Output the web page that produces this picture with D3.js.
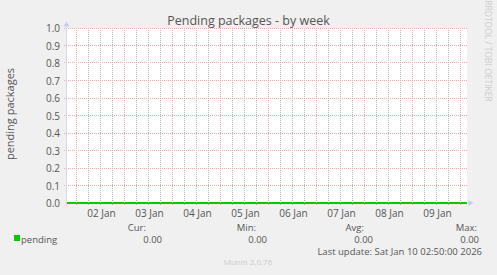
<!DOCTYPE html>
<html>
<head>
<meta charset="utf-8">
<script src="https://cdn.jsdelivr.net/npm/d3@7"></script>
<style>
  body { margin: 0; background: #f0f0f0; }
  svg { display: block; font-family: "Open Sans", sans-serif; }
</style>
</head>
<body>
<div id="app"></div>
<script>
// data
const pendingTimes = ["2026-01-01T19:00Z", "2026-01-03T00:00Z", "2026-01-05T00:00Z",
  "2026-01-07T00:00Z", "2026-01-09T00:00Z", "2026-01-10T03:00Z"]
const pendingValues = [0, 0, 0, 0, 0, 0]
const dayLabels = ["02 Jan", "03 Jan", "04 Jan", "05 Jan", "06 Jan", "07 Jan", "08 Jan", "09 Jan"]
const yTicks = [0, 0.1, 0.2, 0.3, 0.4, 0.5, 0.6, 0.7, 0.8, 0.9, 1.0]
const legendHeads = ["Cur:", "Min:", "Avg:", "Max:"]
const legendValues = ["0.00", "0.00", "0.00", "0.00"]

const width = 497
const height = 275
const plotLeft = 66.5, plotRight = 466.5, plotTop = 28.5, plotBottom = 203.5

const svg = d3.select('#app').append('svg')
  .attr('width', width)
  .attr('height', height)

const scaleX = d3.scaleUtc()
  .domain([new Date("2026-01-01T19:00Z"), new Date("2026-01-10T03:00Z")])
  .range([plotLeft, plotRight])

const scaleY = d3.scaleLinear()
  .domain([0, 1])
  .range([plotBottom, plotTop])

// plot background
svg.append('rect')
  .attr('x', 67).attr('y', 28)
  .attr('width', 400).attr('height', 176)
  .attr('fill', '#fff')

// data line
const line = d3.line()
  .x((d, i) => Math.round(scaleX(new Date(pendingTimes[i]))))
  .y(d => Math.floor(scaleY(d)))

svg.append('path')
  .datum(pendingValues)
  .attr('d', line)
  .attr('fill', 'none')
  .attr('stroke', '#00cc00')
  .attr('stroke-width', 2)

// grid (dots start on whole pixels so they stay crisp)
const minorTicks = scaleX.ticks(d3.utcHour.every(6))
const majorTicks = scaleX.ticks(d3.utcDay.every(1))

svg.append('g').selectAll('line')
  .data(minorTicks.filter(t => t.getUTCHours() != 0))
  .enter().append('line')
  .attr('x1', d => scaleX(d)).attr('x2', d => scaleX(d))
  .attr('y1', 28).attr('y2', 205)
  .attr('stroke', '#bdbdbd')
  .attr('stroke-dasharray', '1,1')

svg.append('g').selectAll('line')
  .data(yTicks.slice(1))
  .enter().append('line')
  .attr('x1', 64).attr('x2', 468)
  .attr('y1', d => Math.round(scaleY(d)) - 0.5).attr('y2', d => Math.round(scaleY(d)) - 0.5)
  .attr('stroke', '#f2a8a8')
  .attr('stroke-dasharray', '1,1')

svg.append('g').selectAll('line')
  .data(majorTicks)
  .enter().append('line')
  .attr('x1', d => scaleX(d)).attr('x2', d => scaleX(d))
  .attr('y1', 28).attr('y2', 206)
  .attr('stroke', '#f2a8a8')
  .attr('stroke-dasharray', '1,1')

// axes with arrows
svg.append('line')
  .attr('x1', plotLeft).attr('x2', plotLeft)
  .attr('y1', 24).attr('y2', 206)
  .attr('stroke', '#d4d7f0')
svg.append('path')
  .attr('d', `M${plotLeft - 3},${plotTop - 2}L${plotLeft + 3},${plotTop - 2}L${plotLeft},${plotTop - 7}Z`)
  .attr('fill', '#c8ccf4')
svg.append('path')
  .attr('d', `M${plotRight + 2},${plotBottom - 3.5}L${plotRight + 2},${plotBottom + 2.5}L${plotRight + 7},${plotBottom - 0.5}Z`)
  .attr('fill', '#c8ccf4')

// y tick labels
svg.append('g').selectAll('text')
  .data(yTicks)
  .enter().append('text')
  .attr('x', plotLeft - 6.5)
  .attr('y', d => scaleY(d) + 3.5)
  .attr('text-anchor', 'end')
  .attr('font-size', 10)
  .attr('fill', '#555')
  .text(d => d.toFixed(1))

// x tick labels at noon
svg.append('g').selectAll('text')
  .data(dayLabels)
  .enter().append('text')
  .attr('x', (d, i) => scaleX(d3.utcHour.offset(majorTicks[i], 12)) + 1)
  .attr('y', 216.5)
  .attr('text-anchor', 'middle')
  .attr('font-size', 10)
  .attr('fill', '#555')
  .text(d => d)

// title and labels
svg.append('text')
  .attr('x', 248.5).attr('y', 25)
  .attr('text-anchor', 'middle')
  .attr('font-size', 12.5)
  .attr('fill', '#555')
  .text('Pending packages - by week')

svg.append('text')
  .attr('transform', 'translate(14,114) rotate(-90)')
  .attr('text-anchor', 'middle')
  .attr('font-size', 11)
  .attr('fill', '#555')
  .text('pending packages')

svg.append('text')
  .attr('transform', 'translate(484.5,51) rotate(90)')
  .attr('text-anchor', 'middle')
  .attr('font-size', 8.5)
  .attr('fill', '#cccccc')
  .text('RRDTOOL / TOBI OETIKER')

// legend
svg.append('rect')
  .attr('x', 14).attr('y', 235)
  .attr('width', 6).attr('height', 6)
  .attr('fill', '#00cc00')
svg.append('text')
  .attr('x', 21).attr('y', 242.5)
  .attr('font-size', 9.5)
  .attr('fill', '#555')
  .text('pending')

const colRight = [146, 256, 364, 477]
const valRight = [162, 267, 373, 479]
svg.append('g').selectAll('text')
  .data(legendHeads)
  .enter().append('text')
  .attr('x', (d, i) => colRight[i]).attr('y', 230.5)
  .attr('text-anchor', 'end')
  .attr('font-size', 9.5)
  .attr('fill', '#555')
  .text(d => d)
svg.append('g').selectAll('text')
  .data(legendValues)
  .enter().append('text')
  .attr('x', (d, i) => valRight[i]).attr('y', 242.5)
  .attr('text-anchor', 'end')
  .attr('font-size', 9.5)
  .attr('fill', '#555')
  .text(d => d)

svg.append('text')
  .attr('x', 482).attr('y', 254.5)
  .attr('text-anchor', 'end')
  .attr('font-size', 9.5)
  .attr('fill', '#555')
  .text('Last update: Sat Jan 10 02:50:00 2026')

svg.append('text')
  .attr('x', 248).attr('y', 265)
  .attr('text-anchor', 'middle')
  .attr('font-size', 8)
  .attr('fill', '#cccccc')
  .text('Munin 2.0.76')
</script>
</body>
</html>
